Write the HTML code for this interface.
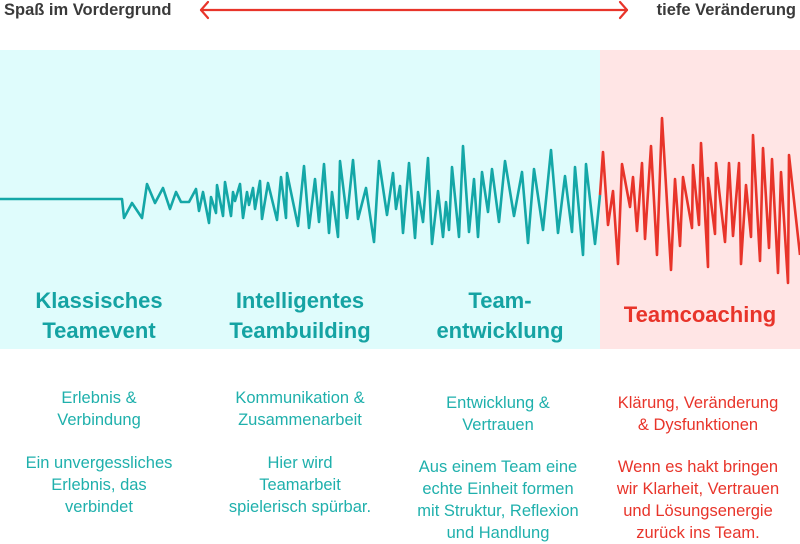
<!DOCTYPE html>
<html><head><meta charset="utf-8"><style>
*{margin:0;padding:0}
body{width:800px;height:541px;background:#fff;position:relative;overflow:hidden;font-family:"Liberation Sans",sans-serif}
.t{position:absolute;white-space:nowrap;text-align:center;transform:translateX(-50%)}
.h{font-weight:bold;font-size:22px;line-height:30px;color:#15a3a3}
.b{font-size:16.5px;line-height:22px;color:#1fb0ac}
.r{color:#e8342a}
.top{position:absolute;top:0;font-size:16.5px;font-weight:bold;color:#3a3a3a;line-height:20px}
</style></head><body>
<div style="position:absolute;left:0;top:50px;width:600px;height:299px;background:#dffcfc"></div>
<div style="position:absolute;left:600px;top:50px;width:200px;height:299px;background:#ffe5e5"></div>
<div class="top" style="left:4px">Spaß im Vordergrund</div>
<div class="top" style="right:4px">tiefe Veränderung</div>
<svg style="position:absolute;left:0;top:0" width="800" height="541">
<g stroke="#e8342a" stroke-width="2.2" fill="none" stroke-linecap="round" stroke-linejoin="round">
<line x1="201" y1="10" x2="627" y2="10"/>
<polyline points="208,2 201,10 208,18"/><polyline points="620,2 627,10 620,18"/>
</g>
<polyline fill="none" stroke="#14a7a7" stroke-width="2.6" stroke-linejoin="round" points="0,199 122,199 124,218 132,203 142,218 147,184 155,203 163,188 170,209 176,192 181,202 189,202 196,189 199,211 203,192 209,223 211,197 216,213 217,185 223,216 225,182 231,216 233,192 235,201 240,184 243,218 247,192 249,205 253,188 255,209 260,181 262,219 268,183 277,220 281,177 286,218 287,173 298,226 304,166 309,228 315,179 319,222 324,164 329,233 332,192 338,237 340,161 347,218 353,160 358,219 366,188 374,242 379,161 387,215 393,173 396,209 400,186 403,233 409,163 415,238 418,192 423,222 428,158 432,244 438,191 443,237 446,202 449,230 452,167 459,237 463,146 469,232 474,179 478,237 482,172 488,212 492,169 499,222 505,161 514,216 522,172 528,243 534,169 543,230 551,150 558,233 565,176 572,232 575,167 583,255 586,164 595,244 600,195"/>
<polyline fill="none" stroke="#e8342a" stroke-width="2.6" stroke-linejoin="round" points="600,195 603,152 608,225 613,191 618,264 622,164 630,207 633,177 637,231 642,163 645,239 651,146 657,255 662,118 671,270 675,179 680,246 683,177 692,228 693,165 699,225 701,143 708,267 708,178 715,234 716,163 725,242 729,163 733,236 739,163 741,264 746,185 751,237 753,135 760,261 763,148 769,248 772,159 778,273 781,172 788,283 789,155 800,255"/>
</svg>
<div class="t h" style="left:99px;top:286px">Klassisches<br>Teamevent</div>
<div class="t h" style="left:300px;top:286px">Intelligentes<br>Teambuilding</div>
<div class="t h" style="left:500px;top:286px">Team-<br>entwicklung</div>
<div class="t h r" style="left:700px;top:300px">Teamcoaching</div>
<div class="t b" style="left:99px;top:387px">Erlebnis &amp;<br>Verbindung</div>
<div class="t b" style="left:99px;top:452px">Ein unvergessliches<br>Erlebnis, das<br>verbindet</div>
<div class="t b" style="left:300px;top:387px">Kommunikation &amp;<br>Zusammenarbeit</div>
<div class="t b" style="left:300px;top:452px">Hier wird<br>Teamarbeit<br>spielerisch spürbar.</div>
<div class="t b" style="left:498px;top:392px">Entwicklung &amp;<br>Vertrauen</div>
<div class="t b" style="left:498px;top:456px">Aus einem Team eine<br>echte Einheit formen<br>mit Struktur, Reflexion<br>und Handlung</div>
<div class="t b r" style="left:698px;top:392px">Klärung, Veränderung<br>&amp; Dysfunktionen</div>
<div class="t b r" style="left:698px;top:456px">Wenn es hakt bringen<br>wir Klarheit, Vertrauen<br>und Lösungsenergie<br>zurück ins Team.</div>
</body></html>
